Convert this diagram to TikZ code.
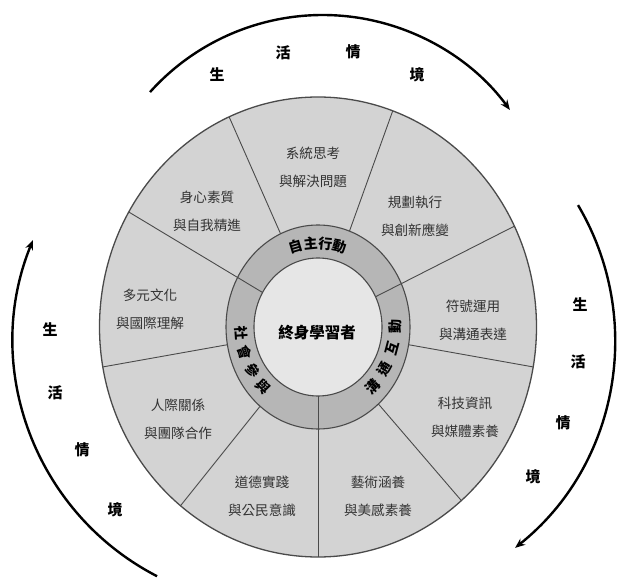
\documentclass[tikz,border=0pt]{standalone}
\usepackage{fontspec}
\usepackage{tikz}
\usetikzlibrary{arrows.meta,calc}
\newfontfamily\cjk{Noto Sans CJK TC}
\definecolor{wheelgray}{HTML}{D3D3D3}
\definecolor{ringgray}{HTML}{B6B6B6}
\definecolor{coregray}{HTML}{E6E6E6}
\definecolor{linegray}{HTML}{4A4A4A}
\definecolor{textgray}{HTML}{333333}

\begin{document}
\begin{tikzpicture}[x=1pt,y=1pt,
  sector/.style={font=\cjk\fontsize{13.6}{28}\selectfont, text=textgray, align=center},
  ringtext/.style={font=\cjk\bfseries\fontsize{14}{14}\selectfont, inner sep=0pt},
  scene/.style={font=\cjk\bfseries\fontsize{15}{15}\selectfont},
  divider/.style={linegray, line width=0.9pt},
  cycle/.style={line width=2.4pt, -{Stealth[length=10pt,width=8pt]}}]
\useasboundingbox (0,0) rectangle (619,579);
\coordinate (c) at (318,252);
% wheel
\fill[wheelgray] (c) ellipse[x radius=218.5, y radius=230];
\fill[ringgray] (c) ellipse[x radius=92, y radius=102];
\fill[coregray] (c) ellipse[x radius=64, y radius=69];
\foreach \a in {114,70,-10,-49,-129,-170}
  \draw[divider] ($(c)+(\a:92 and 102)$) -- ($(c)+(\a:218.5 and 230)$);
\foreach \a in {150,26,-90}
  \draw[divider] ($(c)+(\a:64 and 69)$) -- ($(c)+(\a:218.5 and 230)$);
\draw[linegray, line width=1.3pt] (c) ellipse[x radius=218.5, y radius=230];
\draw[linegray, line width=1.1pt] (c) ellipse[x radius=92, y radius=102];
\draw[linegray, line width=1.1pt] (c) ellipse[x radius=64, y radius=69];

% nine items
\node[sector] (sys) at (313,411.5) {系統思考\\與解決問題};
\node[sector] (plan) at (415,362.5) {規劃執行\\與創新應變};
\node[sector] (sym) at (473,259) {符號運用\\與溝通表達};
\node[sector] (tech) at (465,161.5) {科技資訊\\與媒體素養};
\node[sector] (art) at (378,83) {藝術涵養\\與美感素養};
\node[sector] (moral) at (262,83) {道德實踐\\與公民意識};
\node[sector] (people) at (178,160) {人際關係\\與團隊合作};
\node[sector] (culture) at (150,270) {多元文化\\與國際理解};
\node[sector] (body) at (207,368) {身心素質\\與自我精進};

% ring
\foreach \ch [count=\i] in {自,主,行,動}
  \node[ringtext, rotate={(2.5-\i)*11}] (auto\i) at ($(c)+({90+(2.5-\i)*11}:77 and 84)$) {\ch};
\foreach \ch [count=\i] in {溝,通,互,動}
  \node[ringtext, rotate={67.5+(\i-2.5)*15}] (comm\i) at ($(c)+({-22.5+(\i-2.5)*15}:77 and 84)$) {\ch};
\foreach \ch [count=\i] in {社,會,參,與}
  \node[ringtext, rotate={294.5+(\i-2.5)*13.7}] (soc\i) at ($(c)+({204.5+(\i-2.5)*13.7}:77 and 84)$) {\ch};
\node[font=\cjk\bfseries\fontsize{15.5}{15.5}\selectfont] (learner) at (317,246) {終身學習者};

% life context
\draw[cycle] ($(322.7,332)+(138.1:232)$) arc[start angle=138.1, end angle=36.2, radius=232];
\draw[cycle] ($(349.4,238.7)+(30.6:265.6)$) arc[start angle=30.6, end angle=-51.4, radius=265.6];
\draw[cycle] ($(278.8,238.7)+(242.7:265.5)$) arc[start angle=242.7, end angle=157.8, radius=265.5];
\foreach \ch/\x/\y [count=\i] in {生/217/504,活/283/526,情/353/527,境/417/504}
  \node[scene] (top\i) at (\x,\y) {\ch};
\foreach \ch/\x/\y [count=\i] in {生/580/274,活/578/217,情/563/156,境/533/102}
  \node[scene] (right\i) at (\x,\y) {\ch};
\foreach \ch/\x/\y [count=\i] in {生/50/249,活/55/186,情/82/129,境/115/69}
  \node[scene] (left\i) at (\x,\y) {\ch};
\end{tikzpicture}
\end{document}
